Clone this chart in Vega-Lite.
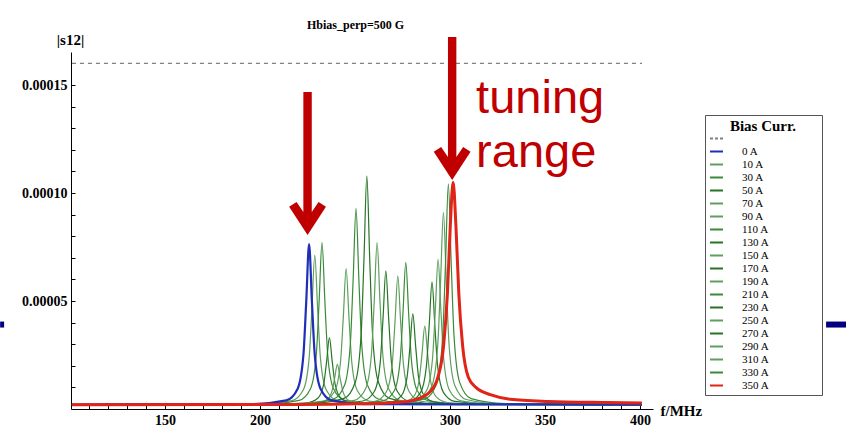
{
  "$schema": "https://vega.github.io/schema/vega-lite/v6.json",
  "width": 582,
  "height": 357,
  "autosize": "none",
  "padding": {"left": 71, "top": 52, "right": 193, "bottom": 23},
  "background": "white",
  "title": {
    "text": "Hbias_perp=500 G",
    "frame": "group",
    "anchor": "start",
    "dx": 236,
    "dy": 2,
    "offset": -7,
    "baseline": "alphabetic",
    "font": "Liberation Serif",
    "fontSize": 12,
    "fontWeight": "bold",
    "color": "black"
  },
  "config": {
    "view": {"stroke": null},
    "axis": {
      "grid": false,
      "domainColor": "black",
      "tickColor": "black",
      "ticks": true,
      "labelFont": "Liberation Serif",
      "labelFontWeight": "bold",
      "labelFontSize": 14,
      "labelColor": "black",
      "titleFont": "Liberation Serif",
      "titleFontWeight": "bold",
      "titleFontSize": 15,
      "titleColor": "black"
    }
  },
  "datasets": {
    "curves": [
      {"c":" ","f":101,"s":16.0e-5},{"c":" ","f":401,"s":16.0e-5},
      {"c":"0 A","f":101,"s":0.2e-5},{"c":"0 A","f":195.8,"s":0.23e-5},{"c":"0 A","f":213.8,"s":0.40e-5},{"c":"0 A","f":219.8,"s":0.94e-5},{"c":"0 A","f":222.8,"s":2.49e-5},{"c":"0 A","f":224.3,"s":4.96e-5},{"c":"0 A","f":225.8,"s":7.64e-5},{"c":"0 A","f":227.3,"s":4.96e-5},{"c":"0 A","f":228.8,"s":2.49e-5},{"c":"0 A","f":231.8,"s":0.94e-5},{"c":"0 A","f":237.8,"s":0.40e-5},{"c":"0 A","f":255.8,"s":0.23e-5},{"c":"0 A","f":401,"s":0.2e-5},
      {"c":"10 A","f":101,"s":0.2e-5},{"c":"10 A","f":198.8,"s":0.23e-5},{"c":"10 A","f":216.8,"s":0.39e-5},{"c":"10 A","f":222.8,"s":0.89e-5},{"c":"10 A","f":225.8,"s":2.33e-5},{"c":"10 A","f":227.3,"s":4.64e-5},{"c":"10 A","f":228.8,"s":7.13e-5},{"c":"10 A","f":230.3,"s":4.64e-5},{"c":"10 A","f":231.8,"s":2.33e-5},{"c":"10 A","f":234.8,"s":0.89e-5},{"c":"10 A","f":240.8,"s":0.39e-5},{"c":"10 A","f":258.8,"s":0.23e-5},{"c":"10 A","f":401,"s":0.2e-5},
      {"c":"30 A","f":101,"s":0.2e-5},{"c":"30 A","f":202.6,"s":0.23e-5},{"c":"30 A","f":220.6,"s":0.40e-5},{"c":"30 A","f":226.6,"s":0.95e-5},{"c":"30 A","f":229.6,"s":2.51e-5},{"c":"30 A","f":231.1,"s":5.01e-5},{"c":"30 A","f":232.6,"s":7.72e-5},{"c":"30 A","f":234.1,"s":5.01e-5},{"c":"30 A","f":235.6,"s":2.51e-5},{"c":"30 A","f":238.6,"s":0.95e-5},{"c":"30 A","f":244.6,"s":0.40e-5},{"c":"30 A","f":262.6,"s":0.23e-5},{"c":"30 A","f":401,"s":0.2e-5},
      {"c":"50 A","f":101,"s":0.2e-5},{"c":"50 A","f":206.5,"s":0.21e-5},{"c":"50 A","f":224.5,"s":0.28e-5},{"c":"50 A","f":230.5,"s":0.51e-5},{"c":"50 A","f":233.5,"s":1.15e-5},{"c":"50 A","f":235.0,"s":2.18e-5},{"c":"50 A","f":236.5,"s":3.30e-5},{"c":"50 A","f":238.0,"s":2.18e-5},{"c":"50 A","f":239.5,"s":1.15e-5},{"c":"50 A","f":242.5,"s":0.51e-5},{"c":"50 A","f":248.5,"s":0.28e-5},{"c":"50 A","f":266.5,"s":0.21e-5},{"c":"50 A","f":401,"s":0.2e-5},
      {"c":"70 A","f":101,"s":0.2e-5},{"c":"70 A","f":210.7,"s":0.21e-5},{"c":"70 A","f":228.7,"s":0.25e-5},{"c":"70 A","f":234.7,"s":0.39e-5},{"c":"70 A","f":237.7,"s":0.78e-5},{"c":"70 A","f":239.2,"s":1.40e-5},{"c":"70 A","f":240.7,"s":2.07e-5},{"c":"70 A","f":242.2,"s":1.40e-5},{"c":"70 A","f":243.7,"s":0.78e-5},{"c":"70 A","f":246.7,"s":0.39e-5},{"c":"70 A","f":252.7,"s":0.25e-5},{"c":"70 A","f":270.7,"s":0.21e-5},{"c":"70 A","f":401,"s":0.2e-5},
      {"c":"90 A","f":101,"s":0.2e-5},{"c":"90 A","f":215.3,"s":0.23e-5},{"c":"90 A","f":233.3,"s":0.37e-5},{"c":"90 A","f":239.3,"s":0.83e-5},{"c":"90 A","f":242.3,"s":2.14e-5},{"c":"90 A","f":243.8,"s":4.23e-5},{"c":"90 A","f":245.3,"s":6.50e-5},{"c":"90 A","f":246.8,"s":4.23e-5},{"c":"90 A","f":248.3,"s":2.14e-5},{"c":"90 A","f":251.3,"s":0.83e-5},{"c":"90 A","f":257.3,"s":0.37e-5},{"c":"90 A","f":275.3,"s":0.23e-5},{"c":"90 A","f":401,"s":0.2e-5},
      {"c":"110 A","f":101,"s":0.2e-5},{"c":"110 A","f":220.5,"s":0.24e-5},{"c":"110 A","f":238.5,"s":0.45e-5},{"c":"110 A","f":244.5,"s":1.11e-5},{"c":"110 A","f":247.5,"s":3.00e-5},{"c":"110 A","f":249.0,"s":6.02e-5},{"c":"110 A","f":250.5,"s":9.29e-5},{"c":"110 A","f":252.0,"s":6.02e-5},{"c":"110 A","f":253.5,"s":3.00e-5},{"c":"110 A","f":256.5,"s":1.11e-5},{"c":"110 A","f":262.5,"s":0.45e-5},{"c":"110 A","f":280.5,"s":0.24e-5},{"c":"110 A","f":401,"s":0.2e-5},
      {"c":"130 A","f":101,"s":0.2e-5},{"c":"130 A","f":226.2,"s":0.25e-5},{"c":"130 A","f":244.2,"s":0.49e-5},{"c":"130 A","f":250.2,"s":1.26e-5},{"c":"130 A","f":253.2,"s":3.46e-5},{"c":"130 A","f":254.7,"s":6.98e-5},{"c":"130 A","f":256.2,"s":10.79e-5},{"c":"130 A","f":257.7,"s":6.98e-5},{"c":"130 A","f":259.2,"s":3.46e-5},{"c":"130 A","f":262.2,"s":1.26e-5},{"c":"130 A","f":268.2,"s":0.49e-5},{"c":"130 A","f":286.2,"s":0.25e-5},{"c":"130 A","f":401,"s":0.2e-5},
      {"c":"150 A","f":101,"s":0.2e-5},{"c":"150 A","f":231.6,"s":0.23e-5},{"c":"150 A","f":249.6,"s":0.40e-5},{"c":"150 A","f":255.6,"s":0.95e-5},{"c":"150 A","f":258.6,"s":2.51e-5},{"c":"150 A","f":260.1,"s":5.01e-5},{"c":"150 A","f":261.6,"s":7.72e-5},{"c":"150 A","f":263.1,"s":5.01e-5},{"c":"150 A","f":264.6,"s":2.51e-5},{"c":"150 A","f":267.6,"s":0.95e-5},{"c":"150 A","f":273.6,"s":0.40e-5},{"c":"150 A","f":291.6,"s":0.23e-5},{"c":"150 A","f":401,"s":0.2e-5},
      {"c":"170 A","f":101,"s":0.2e-5},{"c":"170 A","f":236.2,"s":0.23e-5},{"c":"170 A","f":254.2,"s":0.37e-5},{"c":"170 A","f":260.2,"s":0.82e-5},{"c":"170 A","f":263.2,"s":2.11e-5},{"c":"170 A","f":264.7,"s":4.17e-5},{"c":"170 A","f":266.2,"s":6.40e-5},{"c":"170 A","f":267.7,"s":4.17e-5},{"c":"170 A","f":269.2,"s":2.11e-5},{"c":"170 A","f":272.2,"s":0.82e-5},{"c":"170 A","f":278.2,"s":0.37e-5},{"c":"170 A","f":296.2,"s":0.23e-5},{"c":"170 A","f":401,"s":0.2e-5},
      {"c":"190 A","f":101,"s":0.2e-5},{"c":"190 A","f":242.5,"s":0.23e-5},{"c":"190 A","f":260.5,"s":0.36e-5},{"c":"190 A","f":266.5,"s":0.80e-5},{"c":"190 A","f":269.5,"s":2.03e-5},{"c":"190 A","f":271.0,"s":4.01e-5},{"c":"190 A","f":272.5,"s":6.16e-5},{"c":"190 A","f":274.0,"s":4.01e-5},{"c":"190 A","f":275.5,"s":2.03e-5},{"c":"190 A","f":278.5,"s":0.80e-5},{"c":"190 A","f":284.5,"s":0.36e-5},{"c":"190 A","f":302.5,"s":0.23e-5},{"c":"190 A","f":401,"s":0.2e-5},
      {"c":"210 A","f":101,"s":0.2e-5},{"c":"210 A","f":246.7,"s":0.23e-5},{"c":"210 A","f":264.7,"s":0.38e-5},{"c":"210 A","f":270.7,"s":0.86e-5},{"c":"210 A","f":273.7,"s":2.23e-5},{"c":"210 A","f":275.2,"s":4.42e-5},{"c":"210 A","f":276.7,"s":6.79e-5},{"c":"210 A","f":278.2,"s":4.42e-5},{"c":"210 A","f":279.7,"s":2.23e-5},{"c":"210 A","f":282.7,"s":0.86e-5},{"c":"210 A","f":288.7,"s":0.38e-5},{"c":"210 A","f":306.7,"s":0.23e-5},{"c":"210 A","f":401,"s":0.2e-5},
      {"c":"230 A","f":101,"s":0.2e-5},{"c":"230 A","f":250.4,"s":0.22e-5},{"c":"230 A","f":268.4,"s":0.31e-5},{"c":"230 A","f":274.4,"s":0.62e-5},{"c":"230 A","f":277.4,"s":1.49e-5},{"c":"230 A","f":278.9,"s":2.89e-5},{"c":"230 A","f":280.4,"s":4.40e-5},{"c":"230 A","f":281.9,"s":2.89e-5},{"c":"230 A","f":283.4,"s":1.49e-5},{"c":"230 A","f":286.4,"s":0.62e-5},{"c":"230 A","f":292.4,"s":0.31e-5},{"c":"230 A","f":310.4,"s":0.22e-5},{"c":"230 A","f":401,"s":0.2e-5},
      {"c":"250 A","f":101,"s":0.2e-5},{"c":"250 A","f":256.7,"s":0.22e-5},{"c":"250 A","f":274.7,"s":0.30e-5},{"c":"250 A","f":280.7,"s":0.56e-5},{"c":"250 A","f":283.7,"s":1.32e-5},{"c":"250 A","f":285.2,"s":2.53e-5},{"c":"250 A","f":286.7,"s":3.84e-5},{"c":"250 A","f":288.2,"s":2.53e-5},{"c":"250 A","f":289.7,"s":1.32e-5},{"c":"250 A","f":292.7,"s":0.56e-5},{"c":"250 A","f":298.7,"s":0.30e-5},{"c":"250 A","f":316.7,"s":0.22e-5},{"c":"250 A","f":401,"s":0.2e-5},
      {"c":"270 A","f":101,"s":0.2e-5},{"c":"270 A","f":260.5,"s":0.23e-5},{"c":"270 A","f":278.5,"s":0.35e-5},{"c":"270 A","f":284.5,"s":0.77e-5},{"c":"270 A","f":287.5,"s":1.95e-5},{"c":"270 A","f":289.0,"s":3.84e-5},{"c":"270 A","f":290.5,"s":5.89e-5},{"c":"270 A","f":292.0,"s":3.84e-5},{"c":"270 A","f":293.5,"s":1.95e-5},{"c":"270 A","f":296.5,"s":0.77e-5},{"c":"270 A","f":302.5,"s":0.35e-5},{"c":"270 A","f":320.5,"s":0.23e-5},{"c":"270 A","f":401,"s":0.2e-5},
      {"c":"290 A","f":101,"s":0.2e-5},{"c":"290 A","f":263.7,"s":0.23e-5},{"c":"290 A","f":281.7,"s":0.38e-5},{"c":"290 A","f":287.7,"s":0.87e-5},{"c":"290 A","f":290.7,"s":2.27e-5},{"c":"290 A","f":292.2,"s":4.51e-5},{"c":"290 A","f":293.7,"s":6.93e-5},{"c":"290 A","f":295.2,"s":4.51e-5},{"c":"290 A","f":296.7,"s":2.27e-5},{"c":"290 A","f":299.7,"s":0.87e-5},{"c":"290 A","f":305.7,"s":0.38e-5},{"c":"290 A","f":323.7,"s":0.23e-5},{"c":"290 A","f":401,"s":0.2e-5},
      {"c":"310 A","f":101,"s":0.2e-5},{"c":"310 A","f":266.5,"s":0.24e-5},{"c":"310 A","f":284.5,"s":0.44e-5},{"c":"310 A","f":290.5,"s":1.09e-5},{"c":"310 A","f":293.5,"s":2.94e-5},{"c":"310 A","f":295.0,"s":5.90e-5},{"c":"310 A","f":296.5,"s":9.10e-5},{"c":"310 A","f":298.0,"s":5.90e-5},{"c":"310 A","f":299.5,"s":2.94e-5},{"c":"310 A","f":302.5,"s":1.09e-5},{"c":"310 A","f":308.5,"s":0.44e-5},{"c":"310 A","f":326.5,"s":0.24e-5},{"c":"310 A","f":401,"s":0.2e-5},
      {"c":"330 A","f":101,"s":0.2e-5},{"c":"330 A","f":269.1,"s":0.25e-5},{"c":"330 A","f":287.1,"s":0.48e-5},{"c":"330 A","f":293.1,"s":1.22e-5},{"c":"330 A","f":296.1,"s":3.35e-5},{"c":"330 A","f":297.6,"s":6.74e-5},{"c":"330 A","f":299.1,"s":10.42e-5},{"c":"330 A","f":300.6,"s":6.74e-5},{"c":"330 A","f":302.1,"s":3.35e-5},{"c":"330 A","f":305.1,"s":1.22e-5},{"c":"330 A","f":311.1,"s":0.48e-5},{"c":"330 A","f":329.1,"s":0.25e-5},{"c":"330 A","f":401,"s":0.2e-5},
      {"c":"350 A","f":101,"s":0.2e-5},{"c":"350 A","f":221.6,"s":0.21e-5},{"c":"350 A","f":251.6,"s":0.24e-5},{"c":"350 A","f":271.6,"s":0.30e-5},{"c":"350 A","f":281.6,"s":0.43e-5},{"c":"350 A","f":289.6,"s":0.81e-5},{"c":"350 A","f":293.6,"s":1.47e-5},{"c":"350 A","f":296.6,"s":2.93e-5},{"c":"350 A","f":298.6,"s":5.35e-5},{"c":"350 A","f":300.1,"s":8.44e-5},{"c":"350 A","f":301.6,"s":10.50e-5},{"c":"350 A","f":303.1,"s":8.44e-5},{"c":"350 A","f":304.6,"s":5.35e-5},{"c":"350 A","f":306.6,"s":2.93e-5},{"c":"350 A","f":309.6,"s":1.47e-5},{"c":"350 A","f":313.6,"s":1.00e-5},{"c":"350 A","f":321.6,"s":0.65e-5},{"c":"350 A","f":331.6,"s":0.45e-5},{"c":"350 A","f":351.6,"s":0.35e-5},{"c":"350 A","f":381.6,"s":0.30e-5},{"c":"350 A","f":401,"s":0.28e-5}
    ],
    "arrows": [
      {"f": 225.0, "s": 8.06e-5},
      {"f": 301.1, "s": 10.6e-5}
    ],
    "words": [
      {"f": 313.7, "s": 13.70e-5, "t": "tuning"},
      {"f": 313.7, "s": 11.20e-5, "t": "range"}
    ],
    "bars": [
      {"f": 63.2, "f2": 65.3, "s": 3.91e-5},
      {"f": 497.9, "f2": 508.4, "s": 3.91e-5}
    ]
  },
  "data": {"name": "curves"},
  "encoding": {
    "x": {
      "field": "f",
      "type": "quantitative",
      "scale": {"domain": [100.5, 406.8], "nice": false, "zero": false},
      "axis": {
        "title": "f/MHz",
        "titleAngle": 0,
        "titleAlign": "left",
        "titleBaseline": "alphabetic",
        "titleX": 589,
        "titleY": 6,
        "values": [110,120,130,140,150,160,170,180,190,200,210,220,230,240,250,260,270,280,290,300,310,320,330,340,350,360,370,380,390,400],
        "labelExpr": "datum.value % 50 === 0 ? datum.label : ''",
        "tickSize": -4,
        "labelPadding": 8,
        "labelFlush": false
      }
    },
    "y": {
      "field": "s",
      "type": "quantitative",
      "scale": {"domain": [0, 0.00016528], "nice": false, "zero": true},
      "axis": {
        "title": "|s12|",
        "titleAngle": 0,
        "titleAlign": "center",
        "titleBaseline": "alphabetic",
        "titleX": -1,
        "titleY": -8,
        "values": [0.00001,0.00002,0.00003,0.00004,0.00005,0.00006,0.00007,0.00008,0.00009,0.0001,0.00011,0.00012,0.00013,0.00014,0.00015,0.00016],
        "labelExpr": "abs(datum.value*20000 - round(datum.value*20000)) < 0.001 ? format(datum.value, '.5f') : ''",
        "tickSize": -4,
        "labelPadding": 8,
        "labelFlush": false
      }
    },
    "color": {
      "field": "c",
      "type": "nominal",
      "scale": {
        "domain": [" ","0 A","10 A","30 A","50 A","70 A","90 A","110 A","130 A","150 A","170 A","190 A","210 A","230 A","250 A","270 A","290 A","310 A","330 A","350 A"],
        "range": ["#808080","#1f2fb8","#5e9e5e","#3a8a3a","#257525","#5e9e5e","#5e9e5e","#3a8a3a","#257525","#5e9e5e","#257525","#5e9e5e","#3a8a3a","#257525","#5e9e5e","#257525","#5e9e5e","#5e9e5e","#3a8a3a","#e02418"]
      },
      "legend": {
        "title": "Bias Curr.",
        "orient": "none",
        "legendX": 634,
        "legendY": 63,
        "direction": "vertical",
        "symbolType": "stroke",
        "symbolSize": 169,
        "symbolStrokeWidth": 2,
        "labelFont": "Liberation Serif",
        "labelFontSize": 11,
        "labelColor": "black",
        "labelOffset": 18,
        "labelExpr": "datum.value === ' ' ? '' : datum.label + '\u2800\u2800\u2800\u2800\u2800\u2800'",
        "titleFont": "Liberation Serif",
        "titleFontSize": 15,
        "titleFontWeight": "bold",
        "titleColor": "black",
        "titleAnchor": "middle",
        "titlePadding": -3,
        "padding": 4,
        "rowPadding": 0,
        "strokeColor": "#555555",
        "fillColor": "white",
        "symbolLimit": 0,
        "encode": {
          "symbols": {"update": {"strokeDash": {"signal": "datum.value === ' ' ? [3,2] : null"}}}
        }
      }
    }
  },
  "layer": [
    {
      "transform": [{"filter": "datum.c === ' '"}],
      "mark": {"type": "line", "strokeDash": [4, 4], "strokeWidth": 1.3}
    },
    {
      "transform": [{"filter": "datum.c !== ' ' && datum.c !== '0 A' && datum.c !== '350 A'"}],
      "mark": {"type": "line", "strokeWidth": 1.2, "interpolate": "monotone"}
    },
    {
      "transform": [{"filter": "datum.c === '0 A'"}],
      "mark": {"type": "line", "strokeWidth": 2.2, "interpolate": "monotone"}
    },
    {
      "transform": [{"filter": "datum.c === '350 A'"}],
      "mark": {"type": "line", "strokeWidth": 3, "interpolate": "monotone"}
    },
    {
      "data": {"name": "arrows"},
      "mark": {
        "type": "point",
        "shape": "M-0.042,-1.43L0.042,-1.43L0.042,-0.23L0.11,-0.33L0.184,-0.282L0,0L-0.184,-0.282L-0.11,-0.33L-0.042,-0.23Z",
        "size": 40000,
        "filled": true,
        "opacity": 1,
        "strokeWidth": 0
      },
      "encoding": {"color": {"value": "#c00000"}}
    },
    {
      "data": {"name": "words"},
      "mark": {"type": "text", "align": "left", "baseline": "alphabetic", "font": "Liberation Sans", "fontSize": 47},
      "encoding": {"text": {"field": "t"}, "color": {"value": "#c00000"}}
    },
    {
      "data": {"name": "bars"},
      "mark": {"type": "rule", "strokeWidth": 6},
      "encoding": {"x2": {"field": "f2"}, "color": {"value": "#000080"}}
    }
  ]
}
